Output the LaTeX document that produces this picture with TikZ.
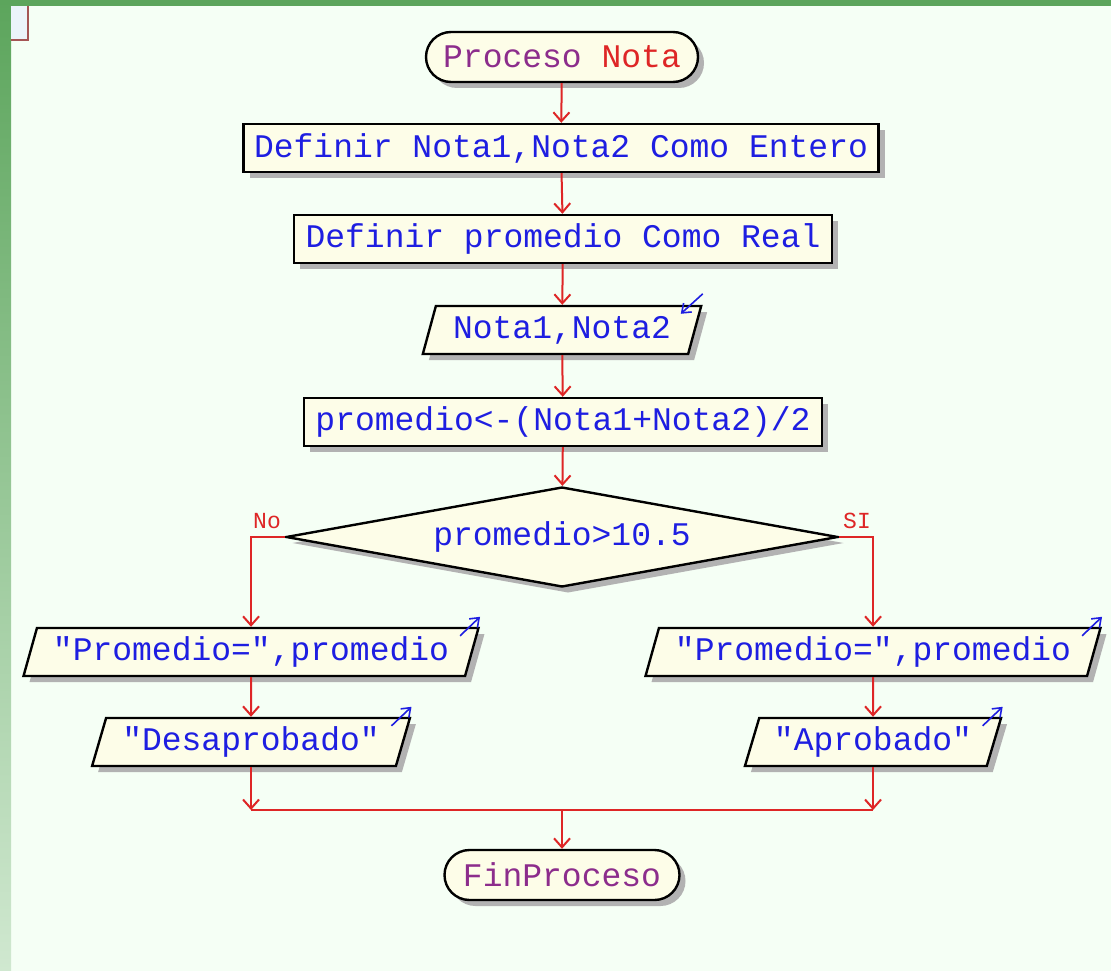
\documentclass[tikz,border=0pt]{standalone}
\usepackage{fontspec}
\newfontfamily\pseint{Liberation Mono}
\usetikzlibrary{shapes.geometric, shapes.misc, arrows.meta, shadows, calc}
\definecolor{fondo}{RGB}{245,255,245}
\definecolor{marco}{RGB}{92,165,92}
\definecolor{marcoclaro}{RGB}{208,232,208}
\definecolor{crema}{RGB}{253,253,232}
\definecolor{sombra}{RGB}{178,178,178}
\definecolor{azul}{RGB}{30,30,225}
\definecolor{rojo}{RGB}{222,38,38}
\definecolor{morado}{RGB}{140,45,140}
\definecolor{hoja}{RGB}{236,244,250}
\definecolor{borde}{RGB}{165,85,85}

\begin{document}
\begin{tikzpicture}[x=1pt, y=-1pt,
  caja/.style={draw=black, line width=2.4pt, fill=crema, text=azul, inner sep=0pt,
    font=\pseint\fontsize{33}{38}\selectfont,
    drop shadow={shadow xshift=6pt, shadow yshift=-6pt, fill=sombra, opacity=1}},
  accion/.style={caja, rectangle, minimum height=48},
  terminal/.style={caja, rounded rectangle, minimum height=50, text=morado},
  entsal/.style={caja, trapezium, trapezium left angle=68, trapezium right angle=112,
    trapezium stretches=true, minimum height=48},
  decision/.style={caja, diamond, aspect=5.52, minimum width=552, minimum height=100},
  flecha/.style={draw=rojo, line width=2pt, -{Straight Barb[length=9pt, width=16pt]}},
  linea/.style={draw=rojo, line width=2pt},
  marca/.style={draw=azul, line width=1.6pt, -{Straight Barb[length=8pt, width=12pt]}},
  etiqueta/.style={text=rojo, font=\pseint\fontsize{23}{25}\selectfont, inner sep=0pt}]
\useasboundingbox (0,0) rectangle (1111,971);
\fill[fondo] (0,0) rectangle (1111,971);
\fill[marco] (0,0) rectangle (1111,6);
\shade[top color=marco, bottom color=marcoclaro] (0,0) rectangle (11,971);
\fill[hoja] (11,6) rectangle (28,40);
\draw[borde, line width=2pt] (28,6) -- (28,40) -- (11,40);

\node[terminal, minimum width=272] (inicio) at (562,57) {Proceso \textcolor{rojo}{Nota}};
\node[accion, minimum width=635] (defNotas) at (561,148) {Definir Nota1,Nota2 Como Entero};
\node[accion, minimum width=538] (defProm) at (563,239) {Definir promedio Como Real};
\node[entsal, minimum width=279] (leerNotas) at (562,330) {Nota1,Nota2\hspace{14pt}};
\node[accion, minimum width=518] (calcProm) at (563,422) {promedio<-(Nota1+Nota2)/2};
\node[decision] (cond) at (562,537) {promedio>10.5};
\node[entsal, minimum width=457] (escNo1) at (251,652) {"Promedio=",promedio};
\node[entsal, minimum width=318] (escNo2) at (251,742) {"Desaprobado"};
\node[entsal, minimum width=457] (escSi1) at (873,652) {"Promedio=",promedio};
\node[entsal, minimum width=257] (escSi2) at (873,742) {"Aprobado"};
\node[terminal, minimum width=235] (fin) at (562,875) {FinProceso};
\node[etiqueta] (lblNo) at (267,521) {No};
\node[etiqueta] (lblSi) at (857,521) {SI};
\coordinate (junta) at (562,810);

\draw[marca] ($(leerNotas.top right corner)+(0,-11)$) -- ++(-22,20);
\draw[marca] ($(escNo1.top right corner)+(-20,9)$) -- ++(20,-19);
\draw[marca] ($(escNo2.top right corner)+(-20,9)$) -- ++(20,-19);
\draw[marca] ($(escSi1.top right corner)+(-20,9)$) -- ++(20,-19);
\draw[marca] ($(escSi2.top right corner)+(-20,9)$) -- ++(20,-19);

\draw[flecha] (inicio) -- (defNotas);
\draw[flecha] (defNotas) -- (defProm);
\draw[flecha] (defProm) -- (leerNotas);
\draw[flecha] (leerNotas) -- (calcProm);
\draw[flecha] (calcProm) -- (cond);
\draw[flecha] (cond.west) -| (escNo1.north);
\draw[flecha] (cond.east) -| (escSi1.north);
\draw[flecha] (escNo1) -- (escNo2);
\draw[flecha] (escSi1) -- (escSi2);
\draw[flecha] (escNo2.south) -- (escNo2.south |- junta);
\draw[flecha] (escSi2.south) -- (escSi2.south |- junta);
\draw[linea] (escNo2.south |- junta) -- (escSi2.south |- junta);
\draw[flecha] (junta) -- (fin);
\end{tikzpicture}
\end{document}
